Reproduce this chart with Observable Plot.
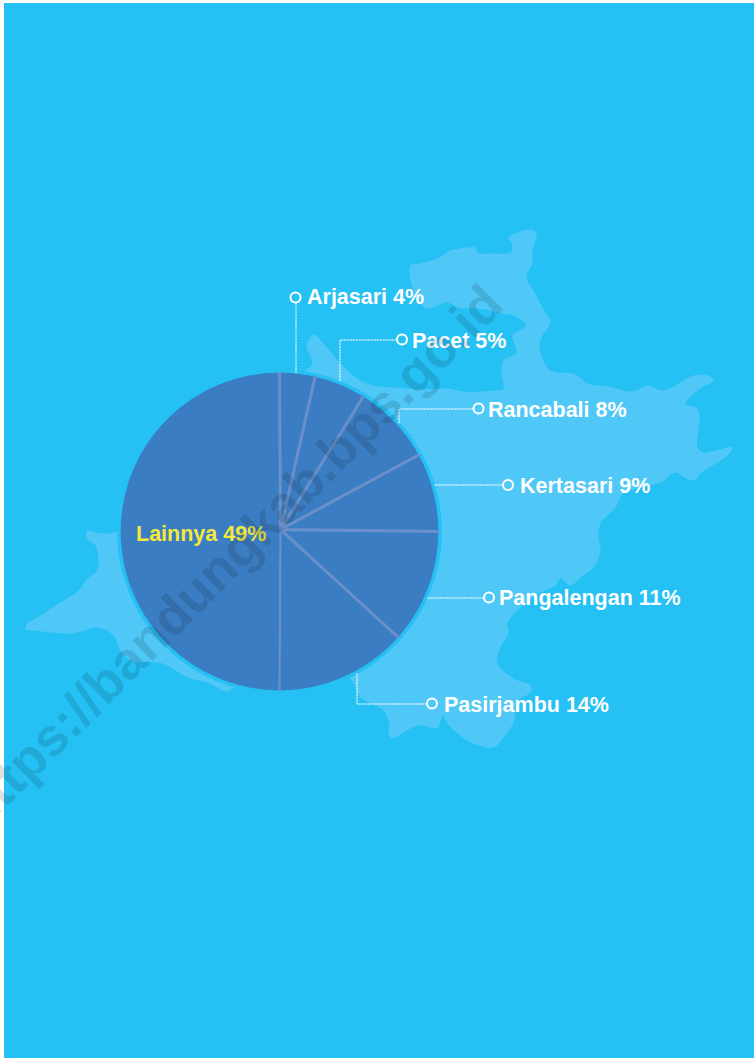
<!DOCTYPE html>
<html>
<head>
<meta charset="utf-8">
<script src="https://cdn.jsdelivr.net/npm/d3@7"></script>
<script src="https://cdn.jsdelivr.net/npm/@observablehq/plot@0.6"></script>
<style>html,body{margin:0;padding:0;background:#fff}svg{display:block}</style>
</head>
<body>
<div id="chart"></div>
<script>
// Chart values
const categories = ["Arjasari", "Pacet", "Rancabali", "Kertasari", "Pangalengan", "Pasirjambu", "Lainnya"];
const labelPercent = [4, 5, 8, 9, 11, 14, 49];
// Slice sizes as actually drawn in the picture (% of the circle)
const sliceShare = [3.6, 5.25, 8.15, 8.0, 11.6, 13.4, 50];

// Callout layout in chart units
const calloutDotX = [295, 401.5, 478, 507.5, 488.5, 431.5];
const calloutDotY = [297, 339, 408, 484.5, 597, 703];
const calloutLabelX = [306.5, 411.5, 487.5, 519.5, 498.5, 443.5, 135.5];
const calloutLabelY = [297, 340.5, 409.5, 485.5, 598, 705, 534];
const calloutPaths = [
  [[295.5, 302], [295.5, 372]],
  [[396, 339.5], [339.5, 339.5], [339.5, 382]],
  [[473, 408.5], [398.5, 408.5], [398.5, 424]],
  [[502, 484.5], [433, 484.5]],
  [[483, 597.5], [426, 597.5]],
  [[426, 703.5], [356.5, 703.5], [356.5, 673]]
];

// Background district silhouette
const mapOutline = [
  [305,370],[312,363],[306,345],[313,334],[322,342],[335,357],[345,368],[360,380],[373,385],[393,387],
  [420,389],[447,388],[463,391],[493,390],[503,388],[501,373],[503,360],[516,352],[512,335],[526,325],
  [513,315],[500,313],[490,310],[475,308],[457,307],[447,302],[427,308],[420,303],[412,287],[410,265],
  [420,263],[437,258],[450,250],[467,247],[475,247],[477,252],[493,253],[510,252],[512,245],[508,237],
  [517,232],[530,229],[536,233],[535,240],[532,250],[532,262],[526,277],[533,290],[542,307],[550,322],
  [542,335],[539,347],[543,360],[550,370],[575,374],[587,383],[607,386],[632,391],[647,385],[662,390],
  [680,382],[693,375],[710,376],[713,380],[700,388],[685,403],[697,408],[699,420],[697,447],[703,452],
  [732,447],[727,455],[700,473],[695,479],[688,479],[675,472],[660,482],[623,493],[615,507],[600,523],
  [598,537],[600,550],[593,567],[580,577],[570,585],[560,578],[555,585],[540,592],[520,607],[507,623],
  [508,633],[500,647],[497,663],[513,678],[530,685],[530,692],[517,700],[515,712],[513,722],[503,737],
  [493,747],[473,743],[457,733],[447,723],[442,715],[437,727],[417,725],[403,732],[392,738],[388,733],
  [389,725],[383,710],[360,697],[348,677],[300,690],[234,687],[227,691],[207,682],[187,677],[162,663],
  [130,660],[120,650],[113,635],[97,627],[72,633],[33,630],[25,629],[27,623],[37,617],[55,605],
  [78,590],[87,578],[97,570],[95,545],[86,538],[87,530],[95,532],[117,531],[200,440]
];

const pageW = 754, pageH = 1058;
const panel = [{x1: 4, x2: 754, y1: 3, y2: 1058}];
const pieCenter = {x: 279, y: 531}, pieRadius = 158.8;
const hub = {x: 280, y: 529};

// Pie geometry, derived from sliceShare
const total = d3.sum(sliceShare);
let running = 0;
const polar = (deg, r) => {
  const a = deg * Math.PI / 180;
  return {x: pieCenter.x + r * Math.sin(a), y: pieCenter.y - r * Math.cos(a)};
};
const sliceRows = [], spokes = [];
sliceShare.forEach((v, i) => {
  const a0 = running / total * 360, a1 = (running + v) / total * 360;
  running += v;
  sliceRows.push({slice: i, ...pieCenter});
  const n = Math.ceil(a1 - a0);
  d3.range(n + 1).forEach(k => {
    sliceRows.push({slice: i, ...polar(a0 + (a1 - a0) * k / n, pieRadius)});
  });
  const e = polar(a1, pieRadius + 1);
  spokes.push({x1: hub.x, y1: hub.y, x2: e.x, y2: e.y, w: i === 5 ? 2.2 : 3});
});
const ringRows = d3.range(360).map(d => polar(d, pieRadius + 1));

const mapRows = mapOutline.map(([x, y]) => ({x, y}));
const calloutRows = calloutPaths.flatMap((p, i) => p.map(([x, y]) => ({i, x, y})));
const dotRows = calloutDotX.map((x, i) => ({x, y: calloutDotY[i]}));
const labelRows = categories.map((c, i) => ({
  text: `${c} ${labelPercent[i]}%`, x: calloutLabelX[i], y: calloutLabelY[i], other: c === "Lainnya"
}));

const chart = Plot.plot({
  width: pageW, height: pageH,
  margin: 0,
  style: {background: "transparent"},
  x: {domain: [0, pageW], range: [0, pageW], axis: null},
  y: {domain: [0, pageH], range: [0, pageH], axis: null},
  marks: [
    Plot.rect(panel, {x1: "x1", x2: "x2", y1: "y1", y2: "y2", fill: "#25c0f4"}),
    Plot.line(mapRows, {x: "x", y: "y", fill: "#50c8f7", stroke: "none", curve: "catmull-rom-closed"}),
    Plot.line(ringRows, {x: "x", y: "y", fill: "#25c0f4", stroke: "#25c0f4", strokeWidth: 5, curve: "linear-closed"}),
    Plot.line(sliceRows, {x: "x", y: "y", z: "slice", fill: "#3b7dc2", stroke: "none", curve: "linear-closed"}),
    Plot.link(spokes, {x1: "x1", y1: "y1", x2: "x2", y2: "y2", stroke: "#6b8fca", strokeWidth: "w", curve: "linear"}),
    Plot.line(calloutRows, {x: "x", y: "y", z: "i", stroke: "#fff", strokeWidth: 1, strokeDasharray: "1.5 1.5"}),
    Plot.dot(dotRows, {x: "x", y: "y", r: 5, stroke: "#fff", strokeWidth: 2, fill: "none"}),
    Plot.text(labelRows, {
      x: "x", y: "y", text: "text", textAnchor: "start", lineAnchor: "middle",
      fontFamily: "Liberation Sans", fontWeight: "bold", fontSize: 21.5,
      fill: d => d.other ? "#f4e83c" : "#fff"
    }),
    Plot.text(["https://bandungkab.bps.go.id"], {
      x: () => 231, y: () => 557, text: d => d, rotate: -45,
      textAnchor: "middle", lineAnchor: "middle",
      fontFamily: "Liberation Sans", fontWeight: "bold", fontSize: 53,
      fill: "#000", fillOpacity: 0.12
    })
  ]
});
document.getElementById("chart").append(chart);
</script>
</body>
</html>
